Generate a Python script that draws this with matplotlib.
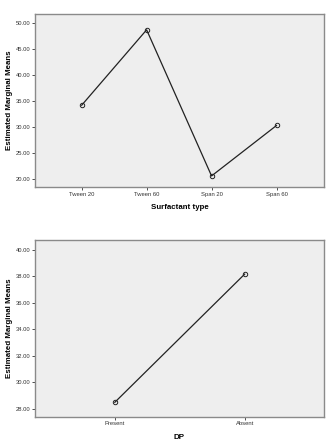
import matplotlib
matplotlib.use("Agg")
import matplotlib.pyplot as plt

plt.rcParams['font.family'] = ['Liberation Sans', 'DejaVu Sans']

# estimated marginal means by surfactant type
surfactants = ["Tween 20", "Tween 60", "Span 20", "Span 60"]
surf_means = [34.1, 48.6, 20.5, 30.2]
surf_ticks = [20, 25, 30, 35, 40, 45, 50]

# estimated marginal means by DP
dp_levels = ["Present", "Absent"]
dp_means = [28.48, 38.16]
dp_ticks = [28, 30, 32, 34, 36, 38, 40]

fig = plt.figure(figsize=(3.36, 4.47), dpi=100)
fig.patch.set_facecolor("white")


def profile_plot(ax, cats, means, yticks, xlim, ylim, xlabel):
    xs = list(range(len(cats)))
    ax.set_facecolor("#eeeeee")
    ax.plot(xs, means, color="#222222", lw=0.9, marker="o", ms=3.2,
            mfc="none", mec="#222222", mew=0.7)
    ax.set_xticks(xs)
    ax.set_xticklabels(cats)
    ax.set_yticks(yticks)
    ax.set_yticklabels([f"{v:.2f}" for v in yticks])
    ax.set_xlim(*xlim)
    ax.set_ylim(*ylim)
    ax.tick_params(labelsize=4.2, length=2.5, width=0.6, colors="#333333",
                   pad=1.0)
    for s in ax.spines.values():
        s.set_color("#8a8a8a")
        s.set_linewidth(1.0)
    ax.set_xlabel(xlabel, fontsize=5.7, fontweight="bold", labelpad=5.5)
    ax.set_ylabel("Estimated Marginal Means", fontsize=5.7,
                  fontweight="bold", labelpad=2.0)


ax1 = fig.add_axes([0.104, 0.582, 0.860, 0.387])
profile_plot(ax1, surfactants, surf_means, surf_ticks,
             (-0.72, 3.73), (18.4, 51.67), "Surfactant type")

ax2 = fig.add_axes([0.104, 0.068, 0.860, 0.394])
profile_plot(ax2, dp_levels, dp_means, dp_ticks,
             (-0.615, 1.61), (27.4, 40.7), "DP")

fig.savefig("out.png", dpi=100)
